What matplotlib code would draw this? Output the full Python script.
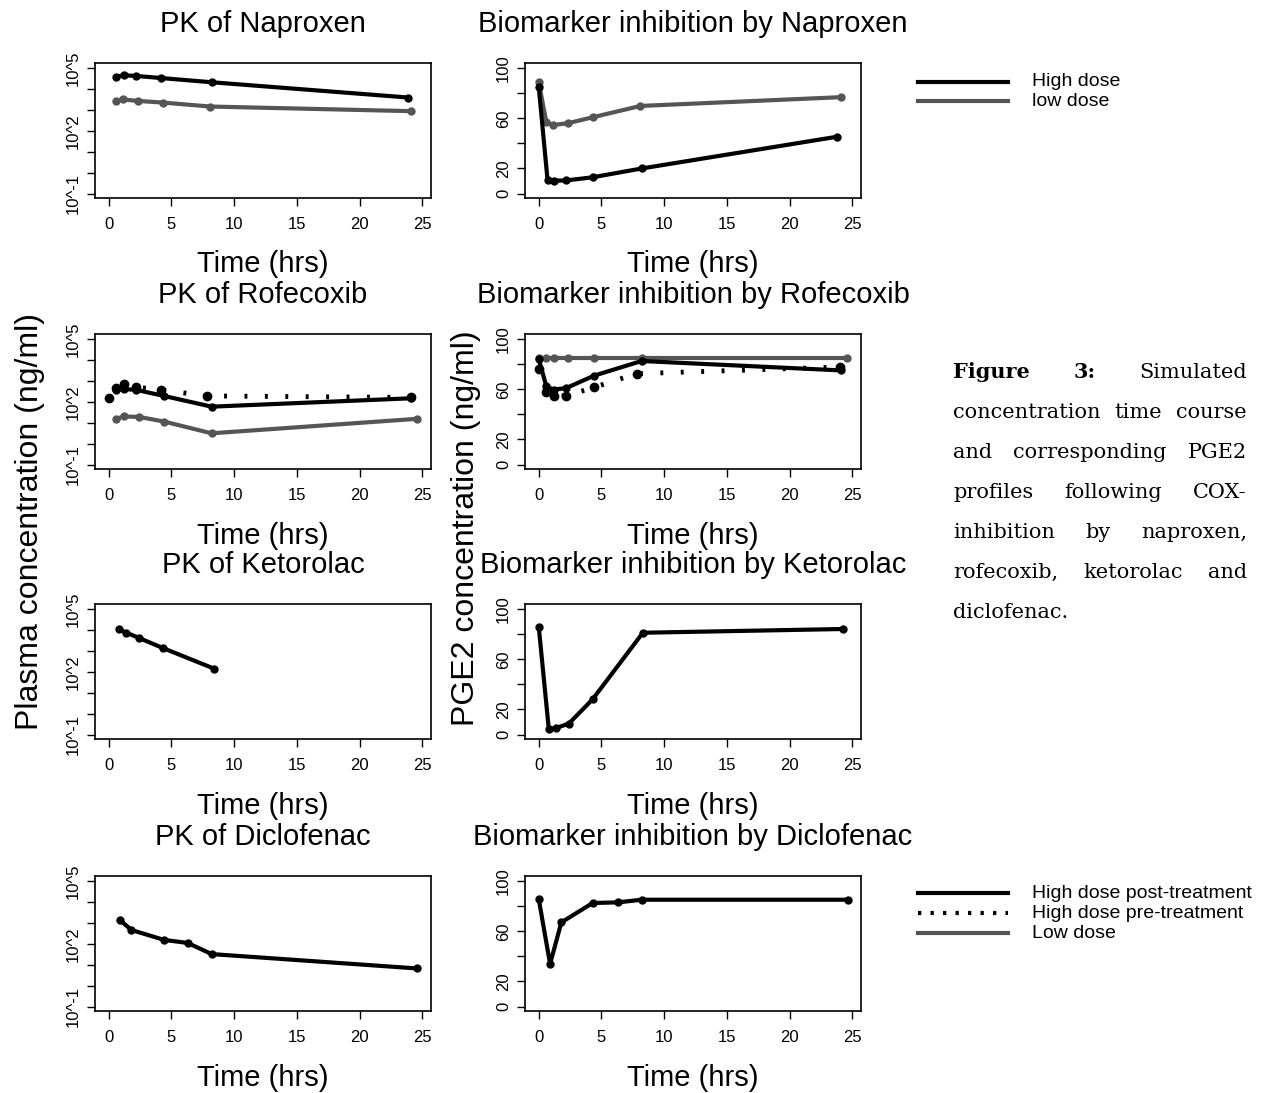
import matplotlib
matplotlib.use('Agg')
import matplotlib.pyplot as plt
from matplotlib.ticker import NullLocator
from matplotlib.lines import Line2D
import numpy as np

plt.rcParams['font.family'] = ['Liberation Sans', 'DejaVu Sans']

W, H = 1284, 1093
BLACK = '#000000'
GREY = '#555555'

# --- values (time in hrs, PK in ng/ml, PGE2 in ng/ml) ---
nap_pk_t_high = [0.6, 1.2, 2.2, 4.2, 8.2, 23.9]
nap_pk_high = [39800, 45700, 42700, 33900, 21400, 3980]
nap_pk_t_low = [0.6, 1.1, 2.3, 4.3, 8.1, 24.1]
nap_pk_low = [2690, 3240, 2750, 2290, 1480, 890]
nap_bio_t_high = [0, 0.7, 1.2, 2.2, 4.3, 8.2, 23.8]
nap_bio_high = [84.5, 10.6, 10.3, 10.5, 13, 20, 45.3]
nap_bio_t_low = [0, 0.6, 1.1, 2.3, 4.3, 8.1, 24.1]
nap_bio_low = [88.5, 57, 54.6, 56, 60.8, 69.8, 76.8]

rof_pk_t_post = [0.6, 1.2, 2.2, 4.4, 8.2, 24.1]
rof_pk_post = [380, 417, 380, 195, 60, 151]
rof_pk_t_pre = [0, 0.6, 1.2, 2.2, 4.2, 7.8, 24.1]
rof_pk_pre = [151, 457, 741, 513, 380, 195, 166]
rof_pk_t_low = [0.6, 1.2, 2.4, 4.4, 8.2, 24.6]
rof_pk_low = [15.8, 20.4, 19.5, 11.7, 3.2, 15.8]
rof_bio_t_post = [0, 0.6, 1.2, 2.2, 4.4, 8.2, 24.1]
rof_bio_post = [84, 62.3, 59.7, 61, 70.8, 82.5, 75]
rof_bio_t_pre = [0, 0.6, 1.2, 2.2, 4.4, 7.8, 24.0]
rof_bio_pre = [76, 57.5, 54.3, 54.8, 61.5, 72.4, 77.7]
rof_bio_t_low = [0, 0.6, 1.2, 2.3, 4.4, 8.2, 24.6]
rof_bio_low = [85, 85, 85, 85, 85, 85, 85]

ket_pk_t = [0.8, 1.4, 2.4, 4.3, 8.4]
ket_pk = [10960, 7590, 4270, 1410, 145]
ket_bio_t = [0, 0.8, 1.4, 2.4, 4.3, 8.3, 24.3]
ket_bio = [85.4, 4.2, 5.3, 8.8, 28.2, 81.1, 84.1]

dic_pk_t = [0.9, 1.8, 4.4, 6.3, 8.2, 24.6]
dic_pk = [1380, 468, 158, 112, 33.1, 6.8]
dic_bio_t = [0, 0.9, 1.8, 4.3, 6.3, 8.2, 24.7]
dic_bio = [85.4, 34, 67.1, 82.5, 83, 85.1, 85.1]

x_ticks = [0, 5, 10, 15, 20, 25]
pk_ticks = [1e-1, 1e0, 1e1, 1e2, 1e3, 1e4, 1e5]
pk_tick_labels = ['10^-1', '', '', '10^2', '', '', '10^5']
bio_ticks = [0, 20, 40, 60, 80, 100]
bio_tick_labels = ['0', '20', '', '60', '', '100']

caption_lines = [
    ['Figure', '3:', 'Simulated'],
    ['concentration', 'time', 'course'],
    ['and', 'corresponding', 'PGE2'],
    ['profiles', 'following', 'COX-'],
    ['inhibition', 'by', 'naproxen,'],
    ['rofecoxib,', 'ketorolac', 'and'],
    ['diclofenac.'],
]

fig = plt.figure(figsize=(W / 100, H / 100), dpi=100)

col_left = [95, 525]
row_top = [63, 334, 604, 876]
ax_w, ax_h = 336, 135


def make_axes(col, row, title, pk):
    left = col_left[col]
    top = row_top[row]
    ax = fig.add_axes([left / W, 1 - (top + ax_h) / H, ax_w / W, ax_h / H])
    for sp in ax.spines.values():
        sp.set_linewidth(1.2)
    ax.set_xlim(-1.1, 25.7)
    ax.set_xticks(x_ticks)
    ax.tick_params(axis='both', direction='out', length=6, width=1,
                   labelsize=12)
    ax.tick_params(axis='x', pad=8)
    ax.tick_params(axis='y', pad=4)
    if pk:
        ax.set_yscale('log')
        ax.set_ylim(10 ** -1.2, 10 ** 5.25)
        ax.set_yticks(pk_ticks)
        ax.yaxis.set_minor_locator(NullLocator())
        ax.set_yticklabels(pk_tick_labels, rotation=90, va='center')
    else:
        ax.set_ylim(-3.5, 104)
        ax.set_yticks(bio_ticks)
        ax.set_yticklabels(bio_tick_labels, rotation=90, va='center')
    ax.set_title(title, fontsize=21, pad=22)
    ax.set_xlabel('Time (hrs)', fontsize=21, labelpad=13)
    return ax


def line(ax, t, y, color, ms=5):
    ax.plot(t, y, '-', color=color, lw=3, marker='o', ms=ms,
            solid_capstyle='round', zorder=3)


def dotted(ax, t, y):
    ax.plot(t, y, color=BLACK, lw=3.5, dashes=(0.6, 3.6),
            dash_capstyle='butt', zorder=2)
    ax.plot(t, y, 'o', color=BLACK, ms=6, zorder=2)


# Naproxen
ax = make_axes(0, 0, 'PK of Naproxen', True)
line(ax, nap_pk_t_high, nap_pk_high, BLACK)
line(ax, nap_pk_t_low, nap_pk_low, GREY)
ax = make_axes(1, 0, 'Biomarker inhibition by Naproxen', False)
line(ax, nap_bio_t_low, nap_bio_low, GREY)
line(ax, nap_bio_t_high, nap_bio_high, BLACK)

# Rofecoxib
ax = make_axes(0, 1, 'PK of Rofecoxib', True)
line(ax, rof_pk_t_low, rof_pk_low, GREY)
dotted(ax, rof_pk_t_pre, rof_pk_pre)
line(ax, rof_pk_t_post, rof_pk_post, BLACK)
ax = make_axes(1, 1, 'Biomarker inhibition by Rofecoxib', False)
line(ax, rof_bio_t_low, rof_bio_low, GREY)
dotted(ax, rof_bio_t_pre, rof_bio_pre)
line(ax, rof_bio_t_post, rof_bio_post, BLACK)

# Ketorolac
ax = make_axes(0, 2, 'PK of Ketorolac', True)
line(ax, ket_pk_t, ket_pk, BLACK)
ax = make_axes(1, 2, 'Biomarker inhibition by Ketorolac', False)
line(ax, ket_bio_t, ket_bio, BLACK)

# Diclofenac
ax = make_axes(0, 3, 'PK of Diclofenac', True)
line(ax, dic_pk_t, dic_pk, BLACK)
ax = make_axes(1, 3, 'Biomarker inhibition by Diclofenac', False)
line(ax, dic_bio_t, dic_bio, BLACK)

# shared y labels
fig.text(30 / W, 1 - 521 / H, 'Plasma concentration (ng/ml)', fontsize=23,
         rotation=90, ha='center', va='center')
fig.text(466 / W, 1 - 528 / H, 'PGE2 concentration (ng/ml)', fontsize=23,
         rotation=90, ha='center', va='center')

# overlay in pixel coordinates for legends and caption
ov = fig.add_axes([0, 0, 1, 1])
ov.set_xlim(0, W)
ov.set_ylim(H, 0)
ov.axis('off')

top_legend = [('High dose', BLACK, '-'), ('low dose', GREY, '-')]
for i, (lab, c, ls) in enumerate(top_legend):
    y = 82 + 19 * i
    ov.add_line(Line2D([918, 1008], [y, y], color=c, lw=3, ls=ls))
    ov.text(1032, y, lab, fontsize=14, va='center', ha='left')

bottom_legend = [('High dose post-treatment', BLACK, '-'),
                 ('High dose pre-treatment', BLACK, (0, (0.8, 2.2))),
                 ('Low dose', GREY, '-')]
for i, (lab, c, ls) in enumerate(bottom_legend):
    y = 893 + 20 * i
    ov.add_line(Line2D([918, 1008], [y, y], color=c, lw=3, ls=ls))
    ov.text(1032, y, lab, fontsize=14, va='center', ha='left')

# justified caption
cap_left, cap_right = 953, 1247
renderer = fig.canvas.get_renderer()
for i, words in enumerate(caption_lines):
    y = 372 + 40 * i
    texts = []
    for w in words:
        bold = w in ('Figure', '3:')
        t = ov.text(0, y, w, fontsize=15, family='DejaVu Serif',
                    fontweight='bold' if bold else 'normal',
                    va='center', ha='left')
        texts.append(t)
    widths = [t.get_window_extent(renderer).width for t in texts]
    if len(texts) > 1 and i < len(caption_lines) - 1:
        gap = (cap_right - cap_left - sum(widths)) / (len(texts) - 1)
    else:
        gap = 6
    x = cap_left
    for t, wd in zip(texts, widths):
        t.set_x(x)
        x += wd + gap

fig.savefig('out.png', dpi=100)
